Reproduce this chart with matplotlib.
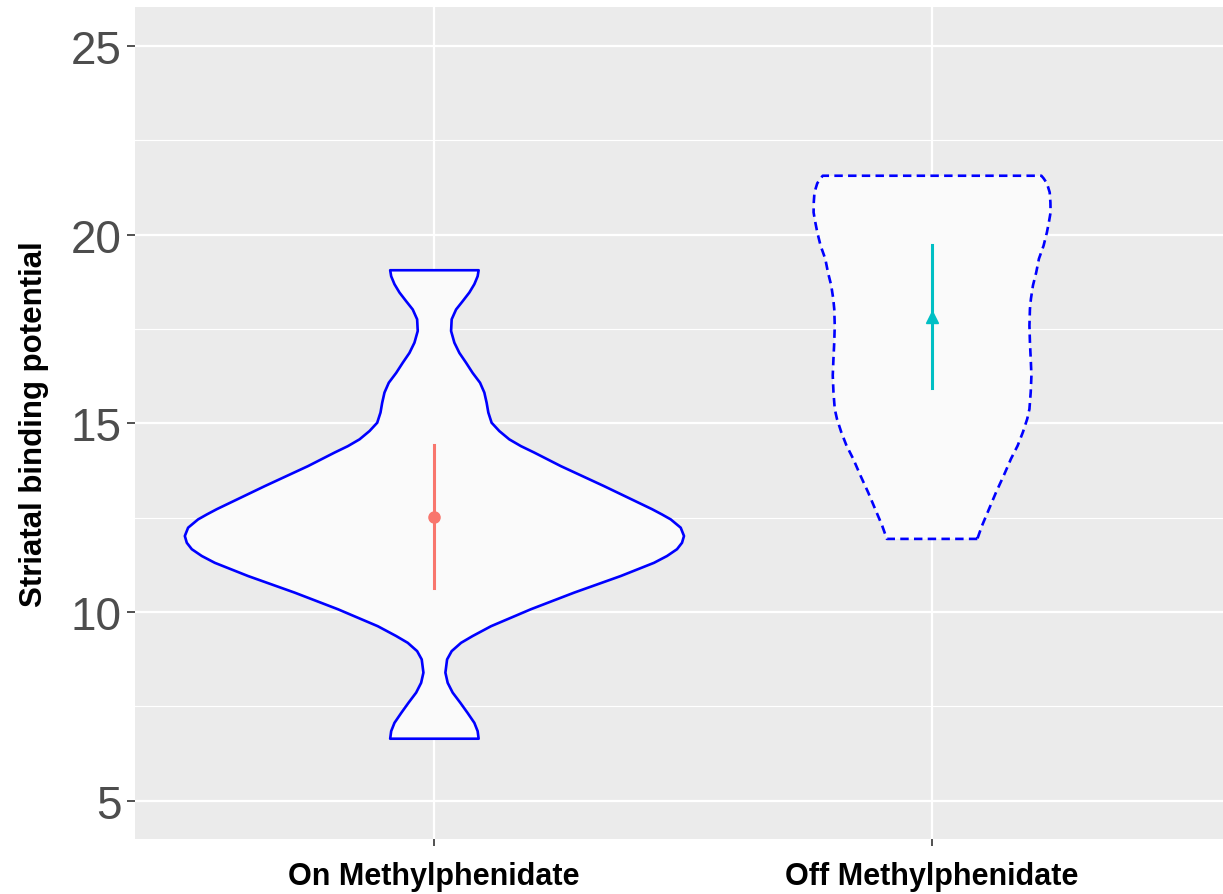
import numpy as np
import matplotlib
matplotlib.use('Agg')
import matplotlib.pyplot as plt
from matplotlib.ticker import MultipleLocator

# groups on the x axis
groups = ['On Methylphenidate', 'Off Methylphenidate']

# violin outlines: y value and half width (pixels, 499 px per group)
on_y = [6.66, 6.86, 7.08, 7.34, 7.61, 7.88, 8.14, 8.41, 8.76, 8.98, 9.20, 9.38,
        9.64, 10.09, 10.53, 10.97, 11.32, 11.50, 11.68, 11.85, 12.03, 12.25, 12.47,
        12.60, 12.74, 13.35, 13.88, 14.24, 14.41, 14.59, 14.81, 15.03, 15.30, 15.56,
        15.83, 16.09, 16.35, 16.62, 16.88, 17.15, 17.46, 17.77, 18.03, 18.25, 18.48,
        18.70, 18.91, 19.07]
on_half = [44.3, 43.3, 40, 33.3, 26, 18.3, 13.3, 11, 12.7, 17.3, 26.7, 38.3,
           56.7, 96.7, 140, 186.7, 220, 233, 243, 248, 250, 246.7, 236.7,
           228, 218, 170, 126.7, 100, 86.7, 75, 65, 57.3, 54, 52.3,
           50, 45.7, 38.3, 31.7, 25, 20, 16.7, 17.3, 21.7, 28.3, 35,
           40, 43.3, 44.3]

off_y = [11.94, 12.29, 12.73, 13.17, 13.62, 14.06, 14.41, 14.77, 15.12, 15.38,
         15.83, 16.27, 16.71, 17.15, 17.59, 18.03, 18.30, 18.65, 19.00, 19.36,
         19.71, 20.06, 20.33, 20.59, 20.86, 21.12, 21.36, 21.49, 21.56]
off_half = [45.3, 50, 57, 64, 71.8, 79, 85.7, 91, 95.3, 97.5,
            98.8, 99.5, 98.8, 98, 97.5, 98, 99, 101, 104.3, 107,
            111.7, 115, 117, 118.7, 118.5, 117.8, 115, 111.7, 109.5]

# mean and interval per group
means = [12.53, 17.83]
lower = [10.63, 15.93]
upper = [14.43, 19.73]
point_colors = ['#F8766D', '#00BFC4']
point_markers = ['o', '^']

px_per_unit = 499.0

fig = plt.figure(figsize=(12.23, 8.95), dpi=100)
ax = fig.add_axes([135 / 1223, 55 / 895, (1231 - 135) / 1223, (887 - 55) / 895])
ax.set_facecolor('#EBEBEB')

profiles = [(on_y, on_half, '-'), (off_y, off_half, (0, (3.2, 2.0)))]
for i, (ys, hw, ls) in enumerate(profiles):
    c = i + 1
    w = np.array(hw) / px_per_unit
    ax.fill_betweenx(ys, c - w, c + w, facecolor='#FAFAFA', edgecolor='#0000FF',
                     linewidth=1.9, linestyle=ls, joinstyle='round', zorder=3)

for i in range(2):
    c = i + 1
    ax.plot([c, c], [lower[i], upper[i]], color=point_colors[i], linewidth=2.2, zorder=4)
    ax.plot(c, means[i], marker=point_markers[i], color=point_colors[i],
            markersize=8 if i == 0 else 9, zorder=5)

ax.set_xlim(0.4, 2.6)
ax.set_ylim(3.99, 26.03)
ax.set_xticks([1, 2])
ax.set_xticklabels(groups)
ax.yaxis.set_major_locator(MultipleLocator(5))
ax.yaxis.set_minor_locator(MultipleLocator(2.5))

ax.grid(which='major', color='white', linewidth=1.6, zorder=0)
ax.grid(which='minor', axis='y', color='white', linewidth=0.8, zorder=0)
ax.set_axisbelow(True)
for s in ax.spines.values():
    s.set_visible(False)

fam = ['Liberation Sans', 'DejaVu Sans']
ax.tick_params(axis='y', which='major', length=6, width=1.2, color='#333333',
               labelsize=33, labelcolor='#4D4D4D', pad=3.5)
ax.tick_params(axis='y', which='minor', length=0)
ax.tick_params(axis='x', length=5, width=1.2, color='#333333', pad=11)
for lab in ax.get_yticklabels():
    lab.set_family(fam)
for lab in ax.get_xticklabels():
    lab.set_family(fam)
    lab.set_fontsize(22)
    lab.set_fontweight('bold')
    lab.set_color('black')

ax.set_ylabel('Striatal binding potential', family=fam, fontsize=22.5,
              fontweight='bold', color='black', labelpad=16)

fig.savefig('out.png', dpi=100)
